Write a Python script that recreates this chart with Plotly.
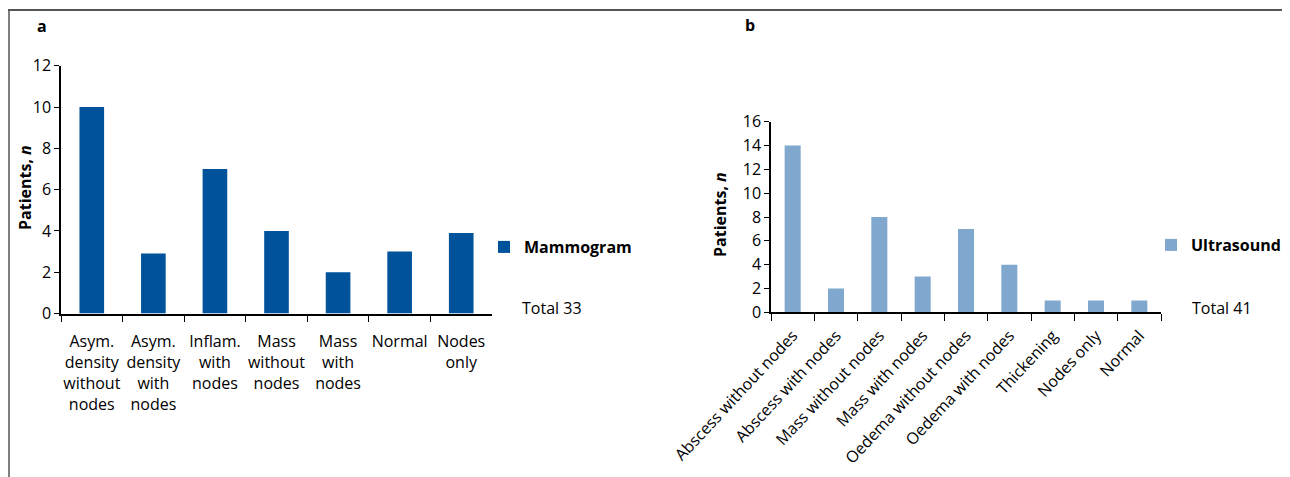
import plotly.graph_objects as go

# The page body adds an 8 px margin, so the figure is offset by (8, 8)
OFF = 8
W, H = 1290 - OFF, 477 - OFF
FONT = "Open Sans"

# Panel a data (mammogram)
mammo_categories = [
    "Asym.<br>density<br>without<br>nodes",
    "Asym.<br>density<br>with<br>nodes",
    "Inflam.<br>with<br>nodes",
    "Mass<br>without<br>nodes",
    "Mass<br>with<br>nodes",
    "Normal",
    "Nodes<br>only",
]
mammo_values = [10, 2.9, 7, 4, 2, 3, 3.9]
mammo_total = "Total 33"

# Panel b data (ultrasound)
us_categories = [
    "Abscess without nodes",
    "Abscess with nodes",
    "Mass without nodes",
    "Mass with nodes",
    "Oedema without nodes",
    "Oedema with nodes",
    "Thickening",
    "Nodes only",
    "Normal",
]
us_values = [14, 2, 8, 3, 7, 4, 1, 1, 1]
us_total = "Total 41"

a_ticks = [0, 2, 4, 6, 8, 10, 12]
b_ticks = [0, 2, 4, 6, 8, 10, 12, 14, 16]
y_title = "<b>Patients, <i>n</i></b>"

C_A = "#00529B"
C_B = "#80A8CF"


def px_x(x):
    return (x - OFF) / W


def px_y(y):
    return 1 - (y - OFF) / H


fig = go.Figure()
fig.add_trace(go.Bar(
    x=mammo_categories, y=mammo_values, name="Mammogram",
    marker=dict(color=C_A, line=dict(width=0)), width=0.4,
    xaxis="x", yaxis="y", legend="legend",
))
fig.add_trace(go.Bar(
    x=us_categories, y=us_values, name="Ultrasound",
    marker=dict(color=C_B, line=dict(width=0)), width=0.37,
    xaxis="x2", yaxis="y2", legend="legend2",
))

axis_common = dict(
    showline=True, linecolor="black", linewidth=1.5,
    showgrid=False, zeroline=False, automargin=False,
    ticks="outside", tickcolor="black", tickwidth=1.2,
    tickfont=dict(family=FONT, size=16, color="black"),
)

fig.update_layout(
    width=W, height=H,
    margin=dict(l=0, r=0, t=0, b=0, autoexpand=False),
    paper_bgcolor="white", plot_bgcolor="white",
    font=dict(family=FONT, color="black"),
    showlegend=True,
    xaxis=dict(
        domain=[px_x(61), px_x(492)], anchor="y",
        type="category", tickson="boundaries", ticklen=7, tickangle=0,
        ticklabelstandoff=13,
        range=[-0.5, len(mammo_categories) - 0.5],
        **axis_common,
    ),
    yaxis=dict(
        domain=[px_y(313.5), px_y(65.7)], anchor="x",
        range=[0, 12], tickvals=a_ticks, ticklen=5,
        **axis_common,
    ),
    xaxis2=dict(
        domain=[px_x(771), px_x(1161)], anchor="y2",
        type="category", tickson="boundaries", ticklen=7, tickangle=-47,
        ticklabelstandoff=6,
        range=[-0.5, len(us_categories) - 0.5],
        **axis_common,
    ),
    yaxis2=dict(
        domain=[px_y(312.3), px_y(121.7)], anchor="x2",
        range=[0, 16], tickvals=b_ticks, ticklen=5,
        **axis_common,
    ),
    legend=dict(
        x=px_x(484), y=px_y(247), xanchor="left", yanchor="middle",
        font=dict(family=FONT, size=16, weight="bold", color="black"),
        bgcolor="rgba(0,0,0,0)", borderwidth=0,
    ),
    legend2=dict(
        x=px_x(1151), y=px_y(245), xanchor="left", yanchor="middle",
        font=dict(family=FONT, size=16, weight="bold", color="black"),
        bgcolor="rgba(0,0,0,0)", borderwidth=0,
    ),
)

# Y-axis titles
fig.add_annotation(text=y_title, textangle=-90, x=px_x(25), y=px_y(188),
                   xref="paper", yref="paper", xanchor="center", yanchor="middle",
                   showarrow=False, font=dict(family=FONT, size=16, color="black"))
fig.add_annotation(text=y_title, textangle=-90, x=px_x(720), y=px_y(215),
                   xref="paper", yref="paper", xanchor="center", yanchor="middle",
                   showarrow=False, font=dict(family=FONT, size=16, color="black"))

# Panel letters and totals
fig.add_annotation(text="<b>a</b>", x=px_x(42), y=px_y(26), xref="paper", yref="paper",
                   xanchor="center", yanchor="middle",
                   showarrow=False, font=dict(family=FONT, size=16, color="black"))
fig.add_annotation(text="<b>b</b>", x=px_x(750), y=px_y(25), xref="paper", yref="paper",
                   xanchor="center", yanchor="middle",
                   showarrow=False, font=dict(family=FONT, size=16, color="black"))
fig.add_annotation(text=mammo_total, x=px_x(520), y=px_y(308), xref="paper", yref="paper",
                   xanchor="left", yanchor="middle", showarrow=False,
                   font=dict(family=FONT, size=16, color="black"))
fig.add_annotation(text=us_total, x=px_x(1190), y=px_y(308), xref="paper", yref="paper",
                   xanchor="left", yanchor="middle", showarrow=False,
                   font=dict(family=FONT, size=16, color="black"))

# Frame lines (top and left)
fig.add_shape(type="line", xref="paper", yref="paper",
              x0=px_x(8), x1=1, y0=px_y(10), y1=px_y(10),
              line=dict(color="#555555", width=2))
fig.add_shape(type="line", xref="paper", yref="paper",
              x0=px_x(9), x1=px_x(9), y0=px_y(10), y1=0,
              line=dict(color="#555555", width=1.5))

fig.write_html("out.html")
